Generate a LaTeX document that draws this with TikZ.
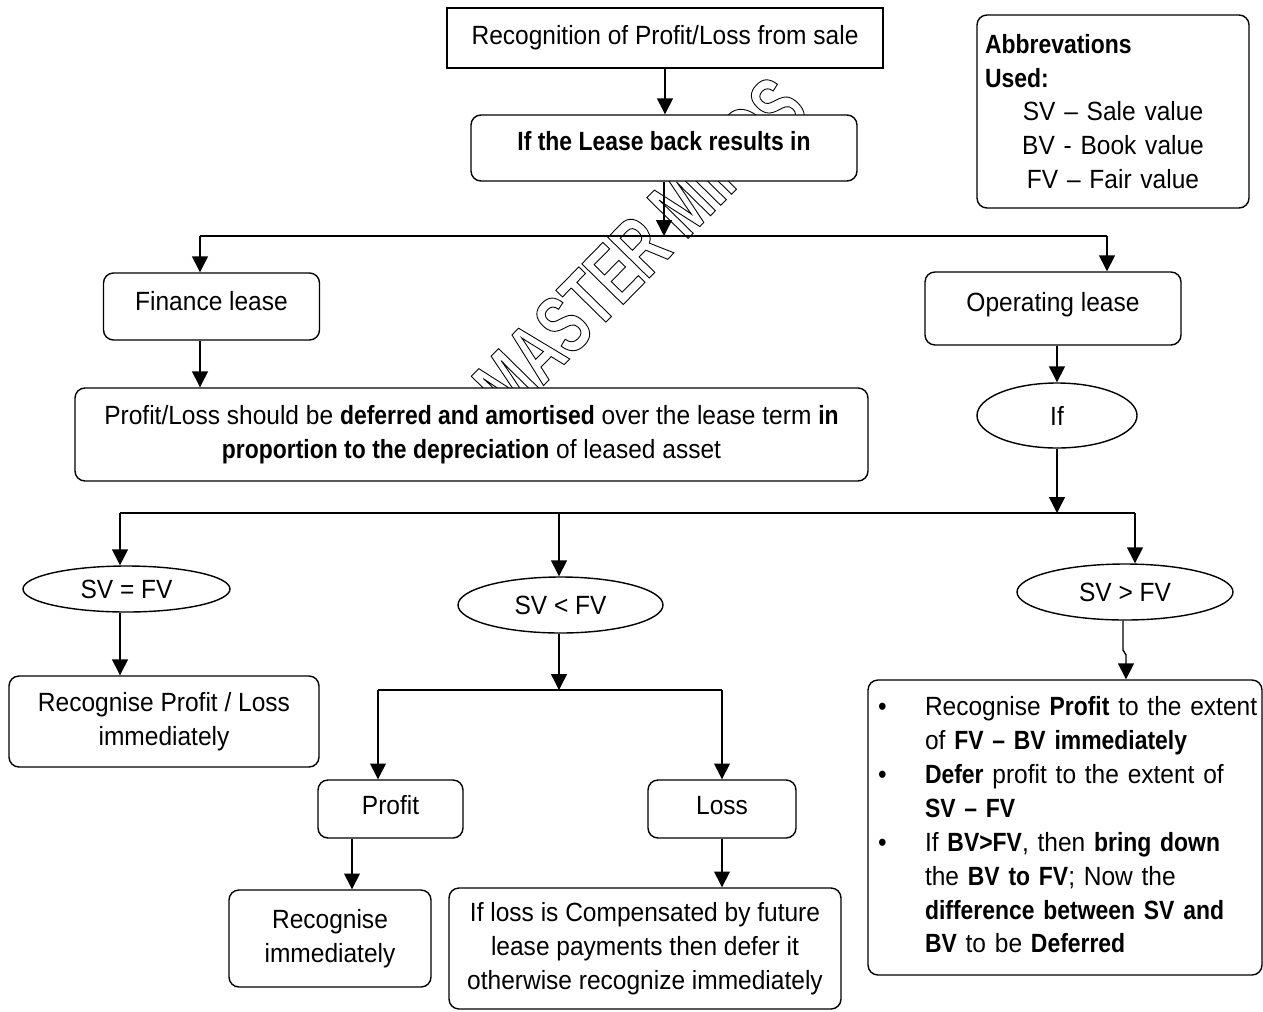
\documentclass[tikz,border=0pt]{standalone}
\usepackage{fontspec}
\setmainfont{Liberation Sans}[UprightFeatures={FakeStretch=0.93}, BoldFeatures={FakeStretch=0.87}]
\newfontfamily\markfont[FakeStretch=0.66]{Liberation Sans}
\usepackage{tikz}
\usetikzlibrary{arrows.meta, shapes.geometric, positioning}

\tikzset{
    box/.style={draw, fill=white, align=center, inner sep=2pt},
    rbox/.style={box, rounded corners=0.2cm},
    oval/.style={draw, fill=white, ellipse, inner sep=0pt},
    boxsize/.style 2 args={minimum width=#1*0.02cm, minimum height=#2*0.02cm},
}

\begin{document}
\begin{tikzpicture}[x=0.02cm, y=-0.02cm, line width=0.8pt,
    >={Triangle[length=9pt, width=9pt]},
    every node/.style={font=\fontsize{15}{19.3}\selectfont}]
    \useasboundingbox (0,0) rectangle (1263,1011);

    % Watermark
    \node[rotate=45.5, font=\markfont\bfseries\fontsize{48}{48}\selectfont] (mark) at (640,246)
        {\special{pdf:literal direct 1 Tr 0.5 w}MASTER MINDS\special{pdf:literal direct 0 Tr}};

    % Top boxes
    \node[box, boxsize={436}{60}] (sale) at (665,38) {Recognition of Profit/Loss from sale};
    \node[rbox, boxsize={386}{66}, text depth=0.28cm] (leaseback) at (664,148) {\textbf{If the Lease back results in}};
    \node[rbox, boxsize={272}{193}, text width=5.12cm, align=left] (abbr) at (1113,111.5)
        {\textbf{Abbrevations}\\ \textbf{Used:}\\ \makebox[5.12cm]{SV – Sale value}\\
         \makebox[5.12cm]{BV - Book value}\\ \makebox[5.12cm]{FV – Fair value}};

    % Type of lease
    \node[rbox, boxsize={216}{67}, text depth=0.22cm] (finance) at (211.5,306.5) {Finance lease};
    \node[rbox, boxsize={256}{73}, text depth=0.25cm] (operating) at (1053,308.5) {Operating lease};
    \node[rbox, boxsize={793}{93}] (deferred) at (471.5,434.5)
        {Profit/Loss should be \textbf{deferred and amortised} over the lease term \textbf{in}\\
         \textbf{proportion to the depreciation} of leased asset};
    \node[oval, boxsize={160}{65}] (cond) at (1057,415.5) {If};

    % Sale value against fair value
    \node[oval, boxsize={207}{46}] (sveq) at (126.5,589) {SV = FV};
    \node[oval, boxsize={205}{56}] (svlt) at (560.5,605) {SV < FV};
    \node[oval, boxsize={216}{56}] (svgt) at (1125,592) {SV > FV};

    % Results
    \node[rbox, boxsize={310}{91}] (recogpl) at (164,721.5) {Recognise Profit / Loss\\ immediately};
    \node[rbox, boxsize={145}{58}, text depth=0.16cm] (profit) at (390.5,809) {Profit};
    \node[rbox, boxsize={148}{58}, text depth=0.16cm] (loss) at (722,809) {Loss};
    \node[rbox, boxsize={202}{97}] (recogimm) at (330,938.5) {Recognise\\ immediately};
    \node[rbox, boxsize={392}{121}] (lossdefer) at (645,948.5)
        {If loss is Compensated by future\\ lease payments then defer it\\ otherwise recognize immediately};
    \node[rbox, boxsize={394}{295}, text width=7.48cm, align=left, inner xsep=0.2cm] (svgtrule) at (1065,827.5)
        {\begin{tabular}{@{}p{0.94cm}@{}l@{}}
         \textbullet & Recognise \textbf{Profit} to the extent\\
                     & of \textbf{FV – BV immediately}\\
         \textbullet & \textbf{Defer} profit to the extent of\\
                     & \textbf{SV – FV}\\
         \textbullet & If \textbf{BV>FV}, then \textbf{bring down}\\
                     & the \textbf{BV to FV}; Now the\\
                     & \textbf{difference between SV and}\\
                     & \textbf{BV} to be \textbf{Deferred}
         \end{tabular}};

    % Junction points
    \coordinate (fl) at (200,236);
    \coordinate (ol) at (1107,236);
    \coordinate (a1) at (120,513);
    \coordinate (a2) at (559,513);
    \coordinate (a3) at (1135,513);
    \coordinate (b1) at (378,690);
    \coordinate (b2) at (722,690);
    \coordinate (p1) at (352,0);
    \coordinate (g1) at (1123,650);
    \coordinate (g2) at (1126,655);

    % Connectors
    \draw[->] (sale.south) -- (sale.south |- leaseback.north);
    \draw[->] (leaseback.south) -- (leaseback.south |- fl);
    \draw (fl) -- (ol);
    \draw[->] (fl) -- (fl |- finance.north);
    \draw[->] (ol) -- (ol |- operating.north);
    \draw[->] (fl |- finance.south) -- (fl |- deferred.north);
    \draw[->] (cond.north |- operating.south) -- (cond.north);
    \draw[->] (cond.south) -- (cond.south |- a1);
    \draw (a1) -- (a3);
    \foreach \p/\q in {a1/sveq, a2/svlt, a3/svgt}
        \draw[->] (\p) -- (\p |- \q.north);
    \draw[->] (a1 |- sveq.south) -- (a1 |- recogpl.north);
    \draw[->] (a2 |- svlt.south) -- (a2 |- b1);
    \draw (b1) -- (b2);
    \draw[->] (b1) -- (b1 |- profit.north);
    \draw[->] (b2) -- (b2 |- loss.north);
    \draw[->] (p1 |- profit.south) -- (p1 |- recogimm.north);
    \draw[->] (b2 |- loss.south) -- (b2 |- lossdefer.north);
    \draw[->] (g1 |- svgt.south) -- (g1) -- (g2) -- (g2 |- svgtrule.north);
\end{tikzpicture}
\end{document}
